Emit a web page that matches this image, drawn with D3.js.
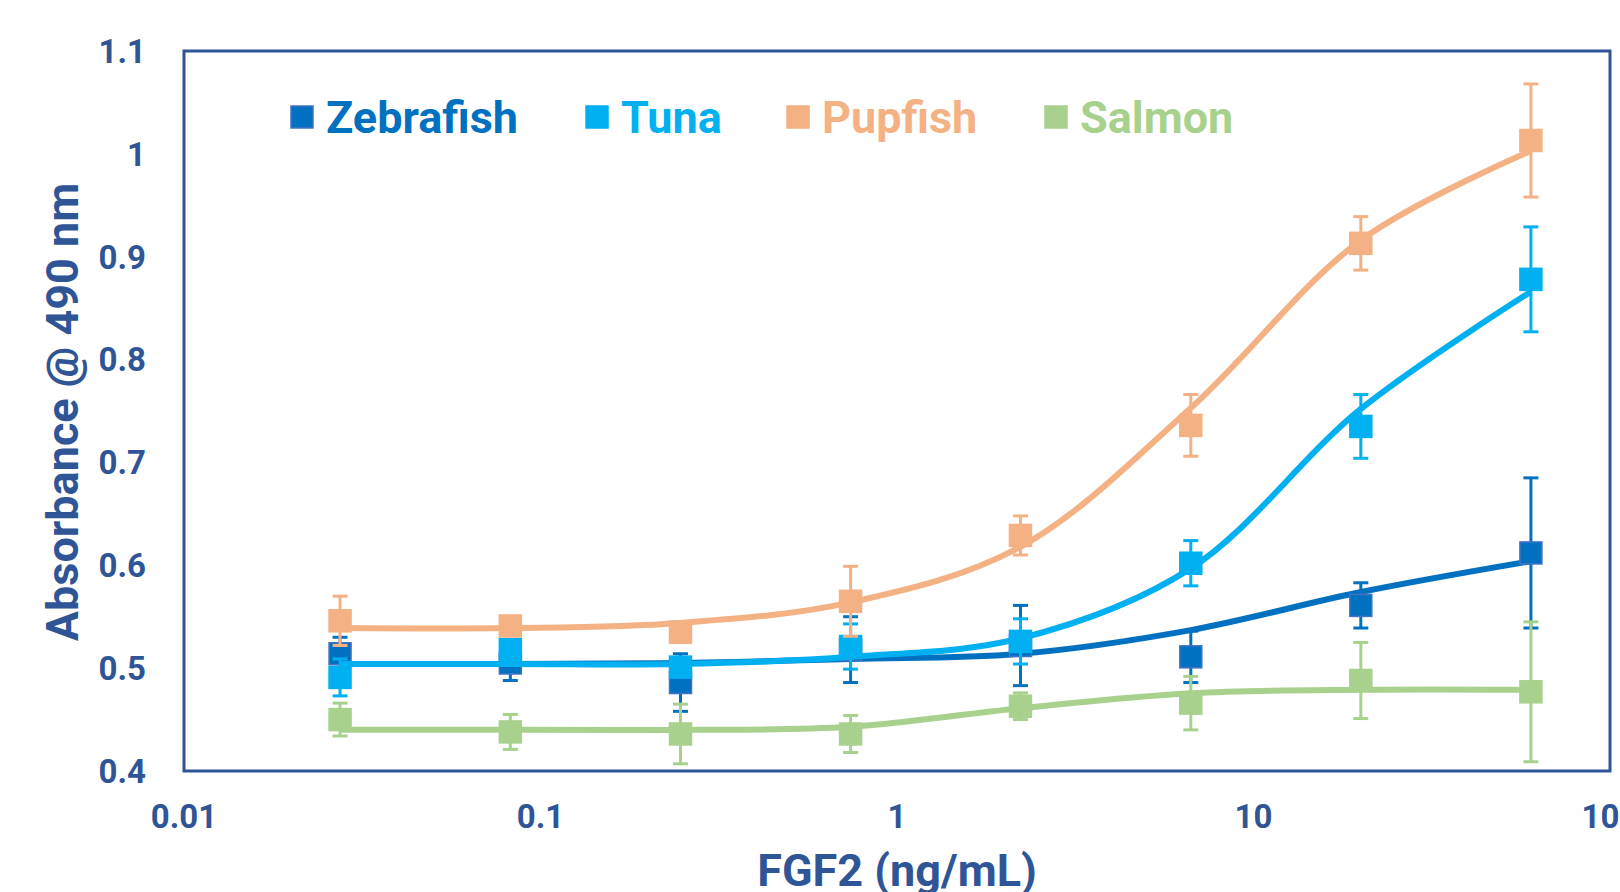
<!DOCTYPE html>
<html lang="en">
<head>
    <meta charset="utf-8">
    <title>FGF2 absorbance</title>
    <script src="https://cdn.jsdelivr.net/npm/d3@7"></script>
    <style>
        body { margin: 0; background: #fff; }
        svg { display: block; font-family: Roboto, 'Noto Sans', sans-serif; font-weight: bold; }
    </style>
</head>
<body>
    <div id="chart"></div>
    <script>
        // FGF2 concentrations (3-fold dilution from 60 ng/mL)
        var conc = [0.0274, 0.0823, 0.247, 0.741, 2.22, 6.67, 20, 60];

        var zebrafish = [0.514, 0.505, 0.486, 0.518, 0.522, 0.511, 0.561, 0.612];
        var zebrafishErr = [0.016, 0.017, 0.028, 0.032, 0.039, 0.025, 0.022, 0.073];
        var zebrafishFit = [0.504, 0.504, 0.505, 0.509, 0.514, 0.537, 0.574, 0.604];

        var tuna = [0.491, 0.518, 0.501, 0.521, 0.526, 0.602, 0.735, 0.878];
        var tunaErr = [0.018, 0.010, 0.008, 0.022, 0.022, 0.022, 0.031, 0.051];
        var tunaFit = [0.504, 0.504, 0.504, 0.511, 0.529, 0.597, 0.752, 0.866];

        var pupfish = [0.546, 0.541, 0.535, 0.565, 0.629, 0.736, 0.913, 1.013];
        var pupfishErr = [0.024, 0.004, 0.010, 0.034, 0.019, 0.030, 0.026, 0.055];
        var pupfishFit = [0.539, 0.539, 0.544, 0.564, 0.618, 0.753, 0.916, 1.003];

        var salmon = [0.450, 0.438, 0.436, 0.436, 0.463, 0.466, 0.488, 0.477];
        var salmonErr = [0.016, 0.017, 0.029, 0.018, 0.013, 0.026, 0.037, 0.068];
        var salmonFit = [0.440, 0.440, 0.440, 0.443, 0.461, 0.4755, 0.479, 0.479];

        var xTicks = [0.01, 0.1, 1, 10, 100];
        var yTicks = [0.4, 0.5, 0.6, 0.7, 0.8, 0.9, 1.0, 1.1];

        var series = [
            { name: 'Zebrafish', color: '#0070C0', edge: '#4472C4', y: zebrafish, err: zebrafishErr, fit: zebrafishFit },
            { name: 'Tuna', color: '#00B0F0', edge: '#00B0F0', y: tuna, err: tunaErr, fit: tunaFit },
            { name: 'Pupfish', color: '#F4B183', edge: '#F4B183', y: pupfish, err: pupfishErr, fit: pupfishFit },
            { name: 'Salmon', color: '#A9D18E', edge: '#A9D18E', y: salmon, err: salmonErr, fit: salmonFit }
        ];

        var svgWidth = 1620, svgHeight = 892;
        var padLeft = 184, padRight = 1610, padTop = 51, padBottom = 771;
        var axisColor = '#2F5597';

        var svg = d3.select('#chart').append('svg')
            .attr('width', svgWidth)
            .attr('height', svgHeight);

        var xScale = d3.scaleLog().domain([0.01, 100]).range([padLeft, padRight]);
        var yScale = d3.scaleLinear().domain([0.4, 1.1]).range([padBottom, padTop]);

        // plot frame
        svg.append('rect')
            .attr('x', padLeft).attr('y', padTop)
            .attr('width', padRight - padLeft).attr('height', padBottom - padTop)
            .attr('fill', 'none')
            .attr('stroke', axisColor)
            .attr('stroke-width', 3);

        // y tick labels
        svg.append('g').selectAll('text')
            .data(yTicks)
            .enter()
            .append('text')
            .attr('x', 146)
            .attr('y', d => yScale(d))
            .attr('dy', '0.36em')
            .attr('text-anchor', 'end')
            .attr('fill', axisColor)
            .attr('font-size', 33)
            .text(d => d3.format('~g')(d));

        // x tick labels
        svg.append('g').selectAll('text')
            .data(xTicks)
            .enter()
            .append('text')
            .attr('x', d => xScale(d))
            .attr('y', 828)
            .attr('text-anchor', 'middle')
            .attr('fill', axisColor)
            .attr('font-size', 33)
            .text(d => d3.format('~g')(d));

        // axis titles
        svg.append('text')
            .attr('x', (padLeft + padRight) / 2)
            .attr('y', 886)
            .attr('text-anchor', 'middle')
            .attr('fill', axisColor)
            .attr('font-size', 45)
            .text('FGF2 (ng/mL)');

        svg.append('text')
            .attr('transform', 'translate(78, 412) rotate(-90)')
            .attr('text-anchor', 'middle')
            .attr('fill', axisColor)
            .attr('font-size', 45)
            .text('Absorbance @ 490 nm');

        var line = d3.line()
            .x((d, i) => xScale(conc[i]))
            .y(d => yScale(d))
            .curve(d3.curveCatmullRom.alpha(0.5));

        var ms = 22; // marker size

        series.forEach(function (s) {
            var g = svg.append('g');

            g.append('path')
                .attr('d', line(s.fit))
                .attr('fill', 'none')
                .attr('stroke', s.color)
                .attr('stroke-width', 6);

            var eb = g.append('g')
                .attr('stroke', s.color)
                .attr('stroke-width', 3);
            conc.forEach(function (c, i) {
                var x = xScale(c);
                var y1 = yScale(s.y[i] + s.err[i]);
                var y2 = yScale(s.y[i] - s.err[i]);
                eb.append('line').attr('x1', x).attr('x2', x).attr('y1', y1).attr('y2', y2);
                eb.append('line').attr('x1', x - 7.5).attr('x2', x + 7.5).attr('y1', y1).attr('y2', y1);
                eb.append('line').attr('x1', x - 7.5).attr('x2', x + 7.5).attr('y1', y2).attr('y2', y2);
            });

            g.selectAll('rect.marker')
                .data(s.y)
                .enter()
                .append('rect')
                .attr('class', 'marker')
                .attr('x', (d, i) => xScale(conc[i]) - ms / 2)
                .attr('y', d => yScale(d) - ms / 2)
                .attr('width', ms)
                .attr('height', ms)
                .attr('fill', s.color)
                .attr('stroke', s.edge)
                .attr('stroke-width', 1.5);
        });

        // legend
        var legendX = [291, 586, 787, 1045];
        var legend = svg.append('g');
        series.forEach(function (s, i) {
            legend.append('rect')
                .attr('x', legendX[i])
                .attr('y', 106)
                .attr('width', 22)
                .attr('height', 22)
                .attr('fill', s.color)
                .attr('stroke', s.edge)
                .attr('stroke-width', 1.5);
            legend.append('text')
                .attr('x', legendX[i] + 35)
                .attr('y', 133)
                .attr('fill', s.color)
                .attr('font-size', 45)
                .text(s.name);
        });
    </script>
</body>
</html>
